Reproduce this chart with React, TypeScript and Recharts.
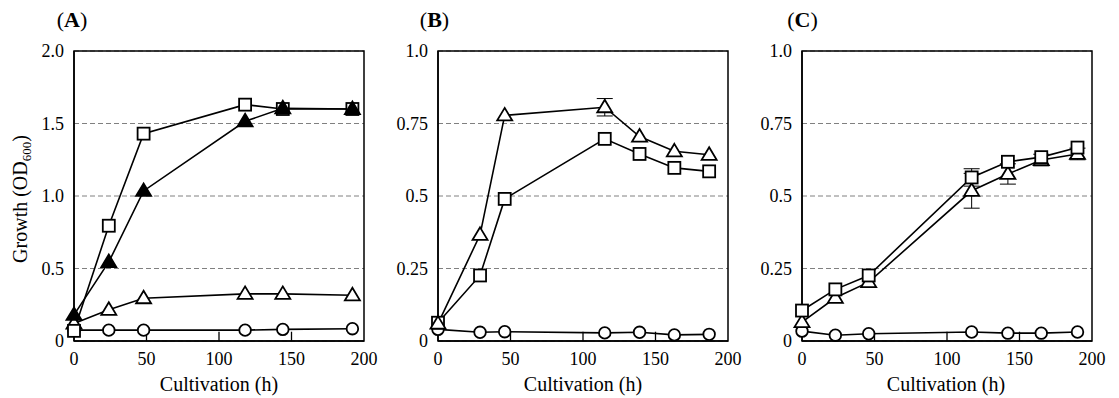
import React from 'react';
import { LineChart, Line, XAxis, YAxis, CartesianGrid, ReferenceArea, ReferenceLine, ErrorBar } from 'recharts';

// Panel A
const hoursA = [0, 24, 48, 118, 144, 192];
const squareA = [0.07, 0.795, 1.43, 1.63, 1.6, 1.6];
const filledTriA = [0.18, 0.545, 1.035, 1.515, 1.605, 1.6];
const openTriA = [0.12, 0.215, 0.295, 0.325, 0.325, 0.315];
const circleA = [0.075, 0.075, 0.075, 0.075, 0.08, 0.085];

// Panel B
const hoursB = [0, 29, 46, 115, 139, 163, 187];
const triB = [0.06, 0.366, 0.778, 0.806, 0.705, 0.654, 0.642];
const triBErr = [0, 0, 0, 0.03, 0, 0, 0];
const squareB = [0.063, 0.226, 0.49, 0.697, 0.645, 0.597, 0.585];
const circleB = [0.04, 0.03, 0.032, 0.028, 0.03, 0.021, 0.023];

// Panel C
const hoursC = [0, 23, 46, 117, 142, 165, 190];
const squareC = [0.105, 0.178, 0.226, 0.564, 0.618, 0.634, 0.667];
const squareCErr = [0, 0, 0, 0.03, 0, 0, 0];
const triC = [0.065, 0.149, 0.203, 0.518, 0.576, 0.624, 0.645];
const triCErr = [0, 0, 0, 0.06, 0.035, 0.02, 0.02];
const circleC = [0.034, 0.02, 0.025, 0.031, 0.027, 0.027, 0.031];

const xTicks = [0, 50, 100, 150, 200];
const xTickLabels = ['0', '50', '100', '150', '200'];
const innerXTicks = [50, 100, 150];
const yTicksA = [0, 0.5, 1, 1.5, 2];
const yTickLabelsA = ['0', '0.5', '1.0', '1.5', '2.0'];
const yTicksBC = [0, 0.25, 0.5, 0.75, 1];
const yTickLabelsBC = ['0', '0.25', '0.5', '0.75', '1.0'];

const panelTitles = ['A', 'B', 'C'];
const xAxisTitle = 'Cultivation (h)';

const FONT = 'Liberation Serif, Times New Roman, serif';

const rows = (xs: number[], ys: number[], errs?: number[]) =>
  xs.map((x, i) => ({ x, y: ys[i], err: errs ? errs[i] : 0 }));

const SW = 1.8;

const squareDot = (p: any) => (
  <rect key={`s${p.index}`} x={p.cx - 6} y={p.cy - 6} width={12} height={12} fill="#fff" stroke="#000" strokeWidth={SW} />
);
const triDot = (fill: string) => (p: any) => (
  <path
    key={`t${p.index}`}
    d={`M${p.cx},${p.cy - 7.5} L${p.cx + 7.5},${p.cy + 5} L${p.cx - 7.5},${p.cy + 5} Z`}
    fill={fill}
    stroke="#000"
    strokeWidth={SW}
    strokeLinejoin="miter"
  />
);
const circleDot = (p: any) => (
  <circle key={`c${p.index}`} cx={p.cx} cy={p.cy} r={5.8} fill="#fff" stroke="#000" strokeWidth={SW} />
);

type Series = { data: { x: number; y: number; err: number }[]; dot: any; err?: boolean };

const Panel = ({
  left,
  width,
  marginLeft,
  marginRight,
  yMax,
  yTicks,
  yLabels,
  series,
}: {
  left: number;
  width: number;
  marginLeft: number;
  marginRight: number;
  yMax: number;
  yTicks: number[];
  yLabels: string[];
  series: Series[];
}) => (
  <div style={{ position: 'absolute', left, top: 0 }}>
    <LineChart width={width} height={398} margin={{ top: 51, right: marginRight, bottom: 27, left: marginLeft }}>
      <CartesianGrid vertical={false} stroke="#808080" strokeDasharray="5 3" strokeWidth={1} />
      <XAxis
        dataKey="x"
        type="number"
        domain={[0, 200]}
        ticks={xTicks}
        interval={0}
        height={30}
        tickSize={0}
        tickMargin={11}
        tickLine={false}
        tickFormatter={(v: number) => xTickLabels[xTicks.indexOf(v)]}
        axisLine={{ stroke: '#000', strokeWidth: 1.5 }}
        tick={{ fill: '#000', fontSize: 18, fontFamily: FONT }}
      />
      <YAxis
        type="number"
        domain={[0, yMax]}
        ticks={yTicks}
        interval={0}
        width={44}
        tickSize={0}
        tickMargin={10}
        tickLine={false}
        tickFormatter={(v: number) => yLabels[yTicks.indexOf(v)]}
        axisLine={{ stroke: '#000', strokeWidth: 1.5 }}
        tick={{ fill: '#000', fontSize: 18, fontFamily: FONT }}
      />
      <ReferenceArea x1={0} x2={200} y1={0} y2={yMax} fill="none" fillOpacity={0} stroke="#000" strokeWidth={1.5} ifOverflow="visible" />
      {innerXTicks.map((t) => (
        <ReferenceLine
          key={`tick${t}`}
          segment={[
            { x: t, y: 0 },
            { x: t, y: yMax * 0.032 },
          ]}
          stroke="#000"
          strokeWidth={1.3}
          ifOverflow="visible"
        />
      ))}
      {series.map((s, i) => (
        <Line
          key={i}
          data={s.data}
          dataKey="y"
          type="linear"
          stroke="#000"
          strokeWidth={1.6}
          dot={s.dot}
          activeDot={false}
          isAnimationActive={false}
        >
          {s.err ? <ErrorBar dataKey="err" width={8} stroke="#000" strokeWidth={1} direction="y" /> : null}
        </Line>
      ))}
    </LineChart>
  </div>
);

export default function App() {
  return (
    <div style={{ position: 'absolute', left: 0, top: 0, width: 1119, height: 398, background: '#fff', fontFamily: FONT }}>
      <Panel
        left={0}
        width={380}
        marginLeft={30}
        marginRight={16}
        yMax={2}
        yTicks={yTicksA}
        yLabels={yTickLabelsA}
        series={[
          { data: rows(hoursA, circleA), dot: circleDot },
          { data: rows(hoursA, openTriA), dot: triDot('#fff') },
          { data: rows(hoursA, squareA), dot: squareDot },
          { data: rows(hoursA, filledTriA), dot: triDot('#000') },
        ]}
      />
      <Panel
        left={370}
        width={380}
        marginLeft={24}
        marginRight={22}
        yMax={1}
        yTicks={yTicksBC}
        yLabels={yTickLabelsBC}
        series={[
          { data: rows(hoursB, circleB), dot: circleDot },
          { data: rows(hoursB, squareB), dot: squareDot },
          { data: rows(hoursB, triB, triBErr), dot: triDot('#fff'), err: true },
        ]}
      />
      <Panel
        left={740}
        width={379}
        marginLeft={18}
        marginRight={27}
        yMax={1}
        yTicks={yTicksBC}
        yLabels={yTickLabelsBC}
        series={[
          { data: rows(hoursC, circleC), dot: circleDot },
          { data: rows(hoursC, triC, triCErr), dot: triDot('#fff'), err: true },
          { data: rows(hoursC, squareC, squareCErr), dot: squareDot, err: true },
        ]}
      />
      <svg width={1119} height={398} style={{ position: 'absolute', left: 0, top: 0, pointerEvents: 'none' }}>
        <g fontFamily={FONT} fill="#000">
          {[72, 434.5, 802.5].map((cx, i) => (
            <text key={`t${i}`} x={cx} y={27} textAnchor="middle" fontSize={22}>
              (<tspan fontWeight="bold">{panelTitles[i]}</tspan>)
            </text>
          ))}
          {[219, 583, 946].map((cx, i) => (
            <text key={`x${i}`} x={cx} y={391} textAnchor="middle" fontSize={20}>
              {xAxisTitle}
            </text>
          ))}
          <text x={27} y={199} textAnchor="middle" fontSize={20} transform="rotate(-90 27 199)">
            Growth (OD<tspan fontSize={13} dy={4}>600</tspan>
            <tspan dy={-4}>)</tspan>
          </text>
        </g>
      </svg>
    </div>
  );
}
